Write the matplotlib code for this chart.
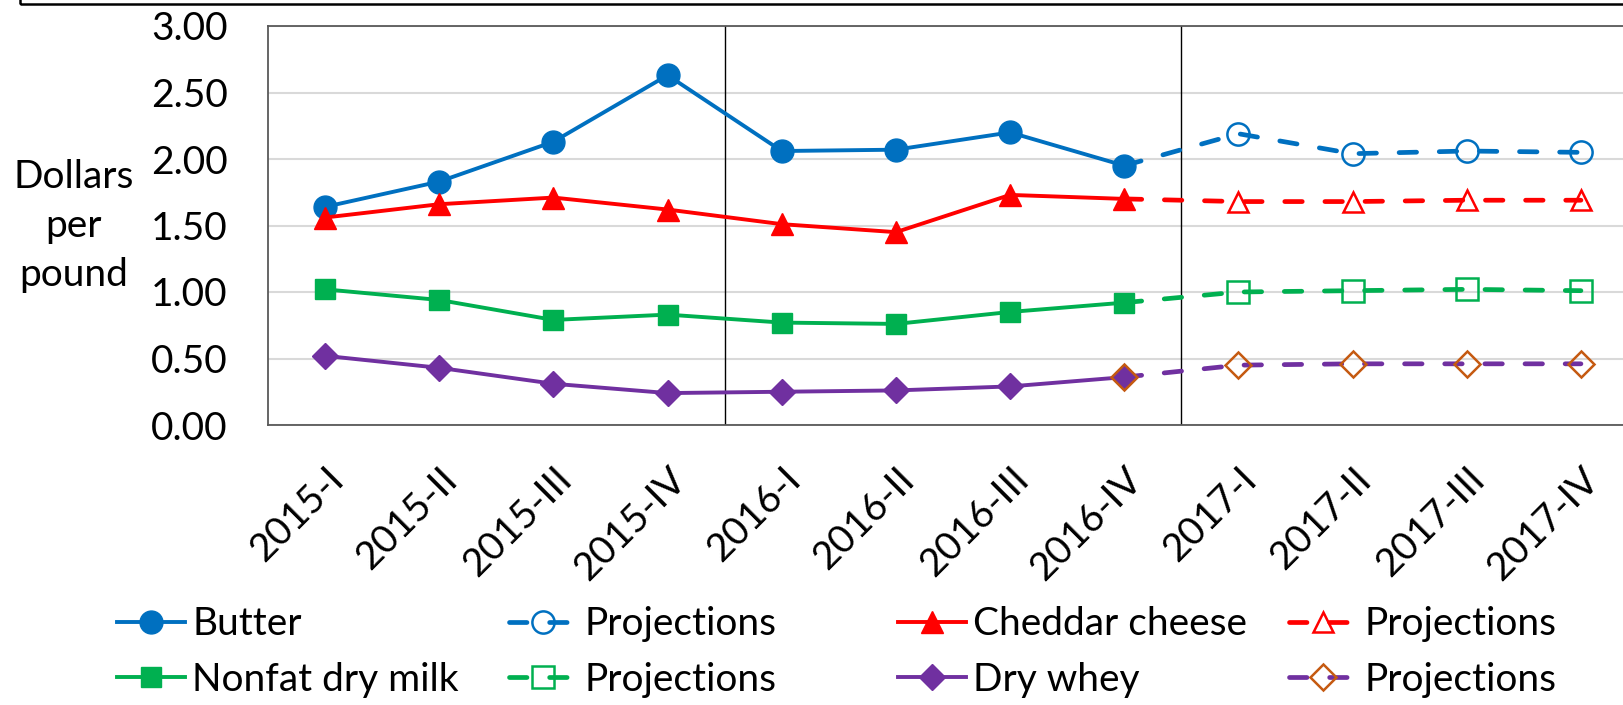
import matplotlib
matplotlib.use("Agg")
import matplotlib.pyplot as plt
from matplotlib.patches import Rectangle

quarters = ['2015-I', '2015-II', '2015-III', '2015-IV', '2016-I', '2016-II',
            '2016-III', '2016-IV', '2017-I', '2017-II', '2017-III', '2017-IV']

butter = [1.64, 1.83, 2.13, 2.63, 2.06, 2.07, 2.20, 1.95]
butter_proj = [1.95, 2.19, 2.04, 2.06, 2.05]
cheddar = [1.56, 1.66, 1.71, 1.62, 1.51, 1.45, 1.73, 1.70]
cheddar_proj = [1.70, 1.68, 1.68, 1.69, 1.69]
ndm = [1.02, 0.94, 0.79, 0.83, 0.77, 0.76, 0.85, 0.92]
ndm_proj = [0.92, 1.00, 1.01, 1.02, 1.01]
whey = [0.52, 0.43, 0.31, 0.24, 0.25, 0.26, 0.29, 0.36]
whey_proj = [0.36, 0.45, 0.46, 0.46, 0.46]

FONT = 'Lato'
FS = 28
plt.rcParams['font.family'] = [FONT, 'DejaVu Sans']

BLUE = '#0070C0'
RED = '#FF0000'
GREEN = '#00B050'
PURPLE = '#7030A0'
BROWN = '#C55A11'

W, H = 1623, 705
fig = plt.figure(figsize=(W / 100, H / 100), dpi=100)
ax = fig.add_axes([268 / W, 1 - 425 / H, (1638 - 268) / W, (425 - 26) / H])

hist_x = list(range(len(butter)))
proj_x = list(range(len(butter) - 1, len(quarters)))

LW = 2.8
PLW = 3.4
DASH = (3.7, 4.8)

def hist(vals, color, marker, ms, label):
    return ax.plot(hist_x, vals, color=color, lw=LW, marker=marker, ms=ms,
                   mfc=color, mec=color, label=label, zorder=3)[0]

def proj(vals, color, marker, ms, label, mec=None, every=None):
    ln = ax.plot(proj_x, vals, color=color, lw=PLW, marker=marker, ms=ms,
                 mfc='none', mec=mec or color, mew=1.8, label=label,
                 markevery=every, zorder=4)[0]
    ln.set_dashes(DASH)
    ln.set_dash_capstyle('round')
    return ln

h_b = hist(butter, BLUE, 'o', 16.5, 'Butter')
h_bp = proj(butter_proj, BLUE, 'o', 16, 'Projections', every=slice(1, None))
h_c = hist(cheddar, RED, '^', 16, 'Cheddar cheese')
h_cp = proj(cheddar_proj, RED, '^', 15, 'Projections', every=slice(1, None))
h_n = hist(ndm, GREEN, 's', 14, 'Nonfat dry milk')
h_np = proj(ndm_proj, GREEN, 's', 16, 'Projections', every=slice(1, None))
h_w = hist(whey, PURPLE, 'D', 13, 'Dry whey')
h_wp = proj(whey_proj, PURPLE, 'D', 13, 'Projections', mec=BROWN)

ax.set_xlim(-0.5, len(quarters) - 0.5)
ax.set_ylim(0, 3)
yt = [0, 0.5, 1.0, 1.5, 2.0, 2.5, 3.0]
ax.set_yticks(yt)
ax.set_yticklabels([f'{v:.2f}' for v in yt], fontsize=FS)
ax.set_xticks(range(len(quarters)))
ax.set_xticklabels(quarters, fontsize=FS, rotation=45, ha='right',
                   rotation_mode='anchor')
ax.tick_params(axis='both', length=0)
ax.tick_params(axis='y', pad=29)
ax.tick_params(axis='x', pad=26)
ax.yaxis.grid(True, color='#D9D9D9', lw=1.5, zorder=0)
ax.set_axisbelow(True)
for s in ax.spines.values():
    s.set_color('#595959')
    s.set_linewidth(1.3)

for xv in [3.5, 7.5]:
    ax.axvline(xv, color='black', lw=1.0, zorder=2)

fig.text(74 / W, 1 - 226 / H, 'Dollars\nper\npound', fontsize=FS, ha='center',
         va='center', linespacing=1.45)

# outer frame edge (cropped box)
fig.patches.append(Rectangle((20 / W, 1 - 4 / H), 2, 1, transform=fig.transFigure,
                             fill=False, ec='black', lw=1.8, clip_on=False))

cols = [(117, [h_b, h_n]), (509, [h_bp, h_np]), (898, [h_c, h_w]), (1289, [h_cp, h_wp])]
for xpix, hs in cols:
    fig.legend(handles=hs, labels=[h.get_label() for h in hs], loc='center left',
               bbox_to_anchor=(xpix / W, 1 - 652 / H), frameon=False,
               fontsize=FS, handlelength=1.75, handletextpad=0.18,
               borderpad=0, borderaxespad=0, labelspacing=0.5)

fig.savefig('out.png', dpi=100)
